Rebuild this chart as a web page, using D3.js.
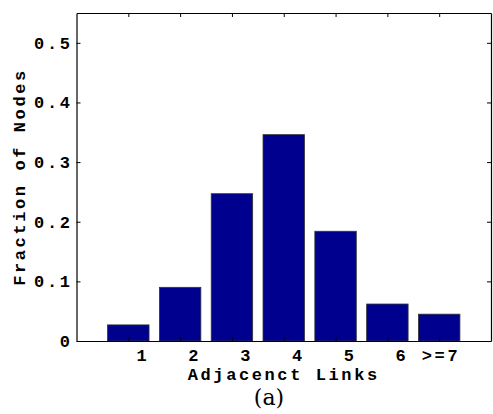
<!DOCTYPE html>
<html>
<head>
<meta charset="utf-8">
<script src="https://cdn.jsdelivr.net/npm/d3@7"></script>
<style>
  html, body { margin: 0; padding: 0; background: #fff; }
</style>
</head>
<body>
<svg id="chart" width="493" height="414"></svg>
<script>
// Degree distribution: fraction of nodes per number of adjacent links
const categories = ["1", "2", "3", "4", "5", "6", ">=7"];
const fractions = [0.027, 0.090, 0.247, 0.346, 0.184, 0.062, 0.045];
const yTicks = [0, 0.1, 0.2, 0.3, 0.4, 0.5];
const yTickLabels = ["0", "0.1", "0.2", "0.3", "0.4", "0.5"];

const svg = d3.select("#chart");
const margin = { left: 76.5, top: 13, right: 2, bottom: 73 };
const W = 493, H = 414;
const plotW = W - margin.left - margin.right;
const plotH = H - margin.top - margin.bottom;

const x = d3.scaleLinear().domain([0, categories.length + 1]).range([margin.left, margin.left + plotW]);
const y = d3.scaleLinear().domain([0, 0.55]).range([margin.top + plotH, margin.top]);
const barW = 0.8;

const mono = "'Liberation Mono', 'DejaVu Sans Mono', monospace";
const fontSize = 17;
const spacing = 2.6;

function monoStyle(sel) {
  sel.attr("font-family", mono).attr("font-weight", "bold")
    .attr("font-size", fontSize).attr("letter-spacing", spacing).attr("fill", "#000");
}

// Bars
svg.append("g").selectAll("rect")
  .data(fractions)
  .join("rect")
  .attr("x", (d, i) => x(i + 1 - barW / 2))
  .attr("width", (d, i) => x(i + 1 + barW / 2) - x(i + 1 - barW / 2))
  .attr("y", d => y(d))
  .attr("height", d => y(0) - y(d))
  .attr("fill", "#00008f")
  .attr("stroke", "#333")
  .attr("stroke-width", 0.8);

// Bottom axis: inward ticks; labels are fixed-width strings, so they sit right of each tick
const xAxis = d3.axisBottom(x)
  .tickValues(d3.range(1, categories.length + 1))
  .tickFormat((d, i) => categories[i])
  .tickSizeInner(-4).tickSizeOuter(0).tickPadding(8);
const gx = svg.append("g").attr("transform", `translate(0,${y(0)})`).call(xAxis);
gx.selectAll("text").call(monoStyle).attr("text-anchor", "end").attr("dx", 20.5);

// Top axis (ticks only)
svg.append("g").attr("transform", `translate(0,${y(0.55)})`)
  .call(d3.axisTop(x).tickValues(d3.range(1, categories.length + 1)).tickFormat("").tickSizeInner(-4).tickSizeOuter(0));

// Left axis
const yAxis = d3.axisLeft(y).tickValues(yTicks).tickFormat((d, i) => yTickLabels[i])
  .tickSizeInner(-4).tickSizeOuter(0).tickPadding(4);
const gy = svg.append("g").attr("transform", `translate(${x(0)},0)`).call(yAxis);
gy.selectAll("text").call(monoStyle);

// Right axis (ticks only)
svg.append("g").attr("transform", `translate(${x(categories.length + 1)},0)`)
  .call(d3.axisRight(y).tickValues(yTicks).tickFormat("").tickSizeInner(-4).tickSizeOuter(0));

svg.selectAll(".domain").attr("stroke", "#000").attr("stroke-width", 1.2);
svg.selectAll(".tick line").attr("stroke", "#000");

// Axis titles
svg.append("text")
  .attr("x", (x(0) + x(categories.length + 1)) / 2)
  .attr("y", 380)
  .attr("text-anchor", "middle")
  .call(monoStyle)
  .text("Adjacenct Links");

svg.append("text")
  .attr("transform", `translate(24.5,${(y(0) + y(0.55)) / 2}) rotate(-90)`)
  .attr("text-anchor", "middle")
  .call(monoStyle)
  .text("Fraction of Nodes");

// Panel label
svg.append("text")
  .attr("x", 269).attr("y", 405)
  .attr("text-anchor", "middle")
  .attr("font-family", "'DejaVu Serif', 'Liberation Serif', serif")
  .attr("font-size", 22)
  .text("(a)");
</script>
</body>
</html>
